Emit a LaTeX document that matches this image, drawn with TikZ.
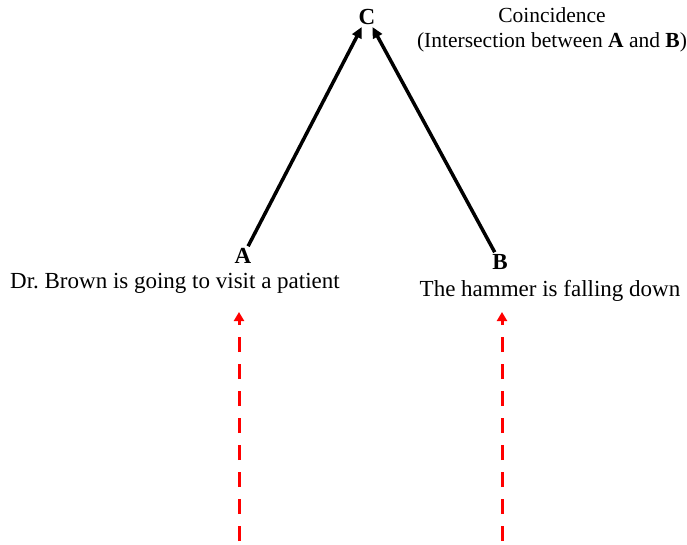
\documentclass[tikz,border=0pt]{standalone}
\usepackage{fontspec}
\setmainfont{Liberation Serif}
\usetikzlibrary{arrows.meta,positioning}

\begin{document}
\begin{tikzpicture}[x=1pt,y=-1pt,
  every node/.style={font=\fontsize{23}{25}\selectfont},
  event/.style={font=\fontsize{23}{25}\selectfont\bfseries,inner sep=2pt},
  caption/.style={inner sep=0pt},
  link/.style={line width=3.5pt,-{Triangle[length=11pt,width=10pt]}},
  cause/.style={red,line width=3pt,dash pattern=on 15pt off 12pt,
    -{Triangle[length=9pt,width=10pt]}}]
\useasboundingbox (0,0) rectangle (687,545);
\frenchspacing
% events
\node [event] (C) at (367,17) {C};
\node [event] (A) at (243,256) {A};
\node [event] (B) at (500,262) {B};
\node [caption,align=center,font=\fontsize{21.5}{25}\selectfont] (Cc) at (552,30)
  {Coincidence\\(Intersection between \textbf{A} and \textbf{B})};
\node [caption] (Ac) at (175,283) {Dr. Brown is going to visit a patient};
\node [caption] (Bc) at (550,291) {The hammer is falling down};
% the two lines meet in C
\draw [link] (A) -- (C);
\draw [link] (B) -- (C);
% causes from below
\coordinate (a0) at (239,541);
\coordinate (a1) at (239,312);
\coordinate (b0) at (502,541);
\coordinate (b1) at (502,312);
\draw [cause] (a0) -- (a1);
\draw [cause] (b0) -- (b1);
\end{tikzpicture}
\end{document}
